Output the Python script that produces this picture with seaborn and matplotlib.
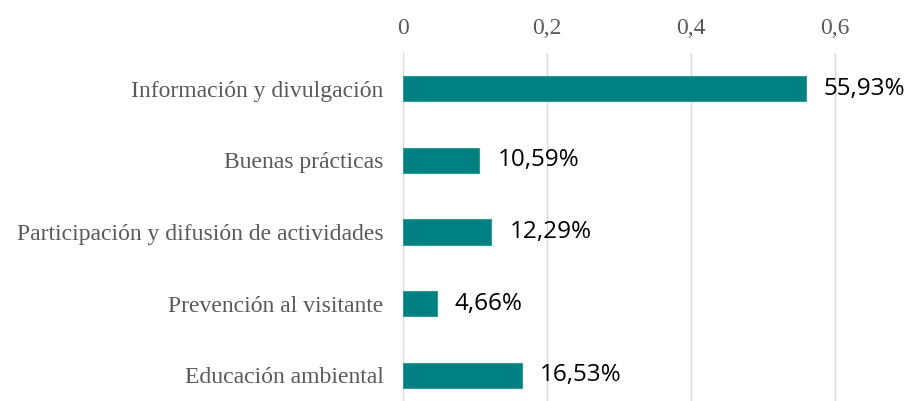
import matplotlib
matplotlib.use('Agg')
import pandas as pd
import matplotlib.pyplot as plt
import seaborn as sns

categorias = ['Información y divulgación', 'Buenas prácticas',
              'Participación y difusión de actividades',
              'Prevención al visitante', 'Educación ambiental']
valores = [0.5593, 0.1059, 0.1229, 0.0466, 0.1653]
etiquetas = ['55,93%', '10,59%', '12,29%', '4,66%', '16,53%']
ticks = [0, 0.2, 0.4, 0.6]
tick_labels = ['0', '0,2', '0,4', '0,6']

df = pd.DataFrame({'categoria': categorias, 'valor': valores})

sns.set_style('white')
fig = plt.figure(figsize=(9.11, 4.01), dpi=100)
ax = fig.add_axes([403 / 911, 1 - 411 / 401, 504 / 911, 358 / 401])

sns.barplot(data=df, x='valor', y='categoria', orient='h', color='#008080',
            saturation=1, width=0.35, edgecolor='#2e9a9a', linewidth=0.8,
            ax=ax, zorder=3)

ax.set_xlim(0, 0.7)
ax.set_ylim(4.5, -0.5)
ax.set_xticks(ticks)
ax.set_xticklabels(tick_labels, family='Liberation Serif', fontsize=17, color='#595959')
ax.xaxis.tick_top()
ax.tick_params(axis='x', length=0, pad=10)
ax.tick_params(axis='y', length=0, pad=14)
for lab in ax.get_yticklabels():
    lab.set_family('Liberation Serif')
    lab.set_fontsize(17)
    lab.set_color('#595959')
ax.set_xlabel('')
ax.set_ylabel('')
ax.grid(axis='x', color='#d9d9d9', linewidth=1, zorder=0)
ax.grid(axis='y', visible=False)
for s in ax.spines.values():
    s.set_visible(False)

ax.bar_label(ax.containers[0], labels=etiquetas, padding=13,
             fontsize=17.5, family='Open Sans', color='#000000')

fig.savefig('out.png', dpi=100)
